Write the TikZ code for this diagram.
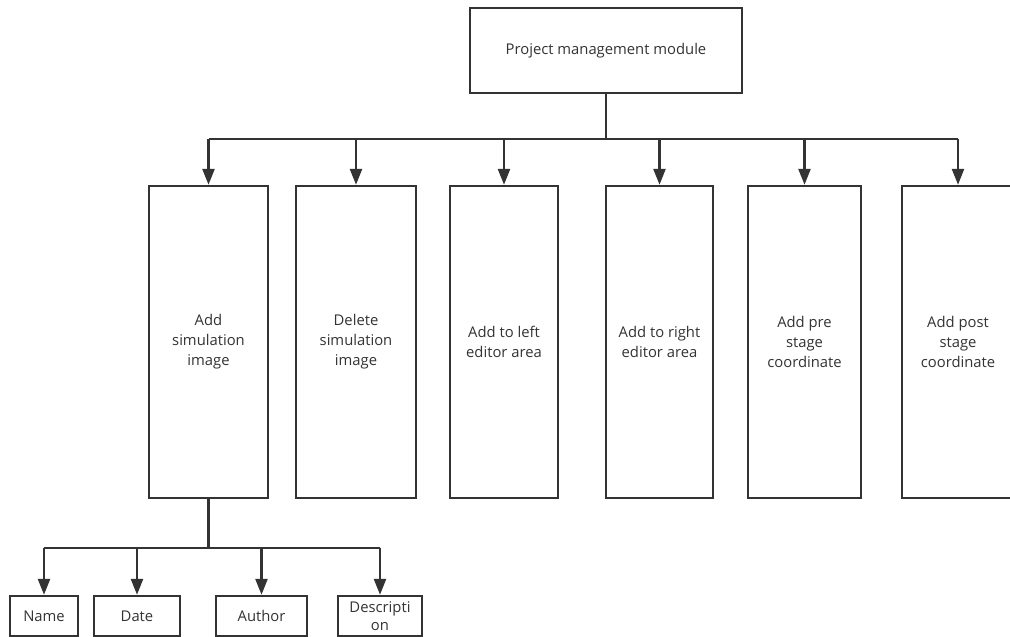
\documentclass[tikz,border=0pt]{standalone}
\usepackage{fontspec}
\setmainfont{Open Sans}
\usetikzlibrary{arrows.meta}
\definecolor{ink}{HTML}{333333}
\tikzset{
  box/.style={draw=ink, line width=2.4pt, fill=white, text=ink, align=center,
    inner sep=2pt, font=\fontsize{14.8}{20}\selectfont},
  link/.style={draw=ink, line width=2.4pt},
  arrowlink/.style={link, -{Triangle[length=16pt, width=12pt]}},
}
\begin{document}
\begin{tikzpicture}[x=1pt, y=-1pt]
  \useasboundingbox (0,0) rectangle (1010,637);
  \clip (0,0) rectangle (1010,637);

  % root
  \node[box, minimum width=272pt, minimum height=85pt] (root) at (606,50.5) {Project management module};

  % first level
  \node[box, minimum width=119pt, minimum height=312pt] (b1) at (208.5,342) {Add\\simulation\\image};
  \node[box, minimum width=120pt, minimum height=312pt] (b2) at (356,342) {Delete\\simulation\\image};
  \node[box, minimum width=108pt, minimum height=312pt] (b3) at (504,342) {Add to left\\editor area};
  \node[box, minimum width=107pt, minimum height=312pt] (b4) at (659.5,342) {Add to right\\editor area};
  \node[box, minimum width=113pt, minimum height=312pt] (b5) at (804.5,342) {Add pre\\stage\\coordinate};
  \node[box, minimum width=112pt, minimum height=312pt] (b6) at (958,342) {Add post\\stage\\coordinate};

  % second level
  \node[box, minimum width=68pt, minimum height=40pt] (c1) at (44,616) {Name};
  \node[box, minimum width=86pt, minimum height=40pt] (c2) at (137,616) {Date};
  \node[box, minimum width=91pt, minimum height=40pt] (c3) at (261.5,616) {Author};
  \node[box, minimum width=84pt, minimum height=40pt, inner sep=1pt,
        font=\fontsize{14.8}{18}\selectfont] (c4) at (380,616) {Descripti\\on};

  % bus lines
  \coordinate (busA) at (0,139);
  \coordinate (busB) at (0,548);

  \draw[link] (root.south) -- (root.south |- busA);
  \draw[link] (b1.north |- busA) -- (b6.north |- busA);
  \foreach \n in {b1,b2,b3,b4,b5,b6}
    \draw[arrowlink] (\n.north |- busA) -- (\n.north);

  \draw[link] (b1.south) -- (b1.south |- busB);
  \draw[link] (c1.north |- busB) -- (c4.north |- busB);
  \foreach \n in {c1,c2,c3,c4}
    \draw[arrowlink] (\n.north |- busB) -- (\n.north);
\end{tikzpicture}
\end{document}
